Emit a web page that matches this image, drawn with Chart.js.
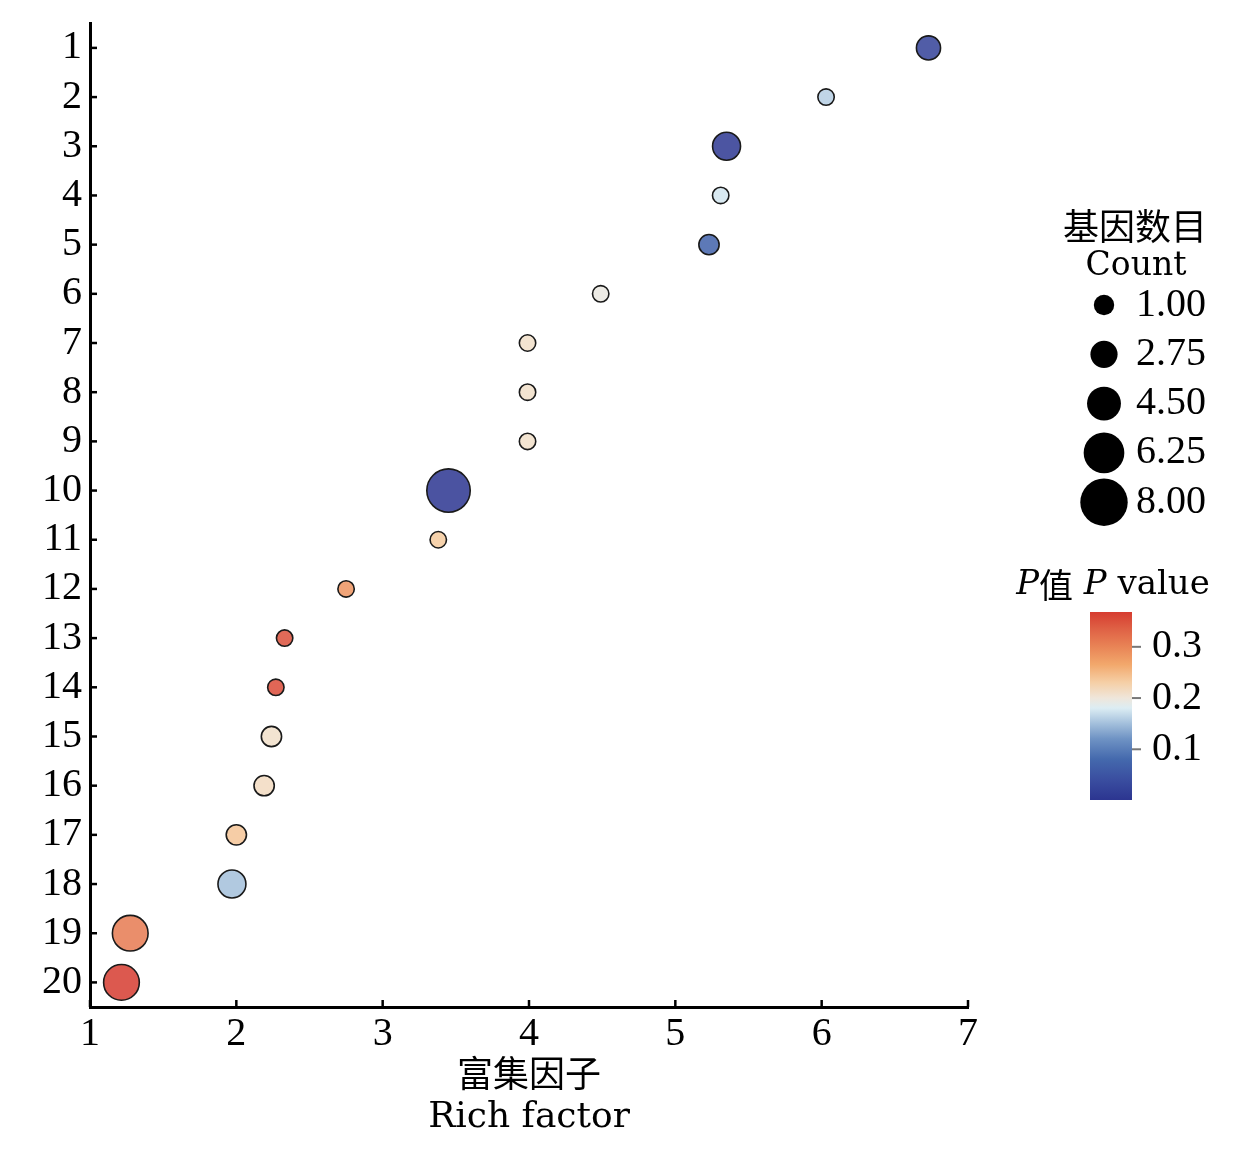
<!DOCTYPE html>
<html>
<head>
<meta charset="utf-8">
<script src="https://cdn.jsdelivr.net/npm/chart.js@4.4.1/dist/chart.umd.min.js"></script>
<style>html,body{margin:0;padding:0;background:#fff;}canvas{display:block;}</style>
</head>
<body>
<canvas id="c" width="1236" height="1156"></canvas>
<script>
// ---------- data ----------
const categories = ['1','2','3','4','5','6','7','8','9','10','11','12','13','14','15','16','17','18','19','20'];
const richFactor = [6.73, 6.03, 5.35, 5.31, 5.23, 4.49, 3.99, 3.99, 3.99, 3.45, 3.38, 2.75, 2.33, 2.27, 2.24, 2.19, 2.00, 1.97, 1.275, 1.215];
const geneCount  = [3, 1, 4, 1, 2, 1, 1, 1, 1, 8, 1, 1, 1, 1, 2, 2, 2, 4, 6, 6];
const pValue     = [0.02, 0.16, 0.005, 0.175, 0.07, 0.195, 0.21, 0.21, 0.21, 0.001, 0.235, 0.285, 0.35, 0.355, 0.21, 0.215, 0.24, 0.15, 0.31, 0.368];
const xTicks = [1, 2, 3, 4, 5, 6, 7];
const sizeLegendValues = [1.00, 2.75, 4.50, 6.25, 8.00];
const colorbarTicks = [0.1, 0.2, 0.3];

// ---------- styling helpers ----------
const cmapStops = [
  [0.000, '#2c3590'], [0.109, '#3a4ea0'], [0.217, '#4469ad'], [0.326, '#6f93c4'],
  [0.408, '#a4c0dc'], [0.489, '#dcedf3'], [0.543, '#efe6da'], [0.625, '#f5cfa6'],
  [0.720, '#f2a86c'], [0.815, '#e98456'], [0.910, '#df6145'], [1.000, '#d63c30']
];
const pMin = Math.min(...pValue), pMax = Math.max(...pValue);
function hex2rgb(h){return [parseInt(h.slice(1,3),16),parseInt(h.slice(3,5),16),parseInt(h.slice(5,7),16)];}
function cmap(p, alpha){
  let t = (p - pMin) / (pMax - pMin); t = Math.max(0, Math.min(1, t));
  for (let i = 1; i < cmapStops.length; i++) {
    if (t <= cmapStops[i][0]) {
      const [t0, c0] = cmapStops[i-1], [t1, c1] = cmapStops[i];
      const f = (t - t0) / (t1 - t0);
      const a = hex2rgb(c0), b = hex2rgb(c1);
      const rgb = a.map((v, k) => Math.round(v + (b[k] - v) * f));
      return `rgba(${rgb[0]},${rgb[1]},${rgb[2]},${alpha})`;
    }
  }
  return cmapStops[cmapStops.length-1][1];
}
const BORDER_W = 1.6;
function diameter(c){ return 18 + (c - 1) * 3.86; }
function radius(c){ return diameter(c) / 2 - BORDER_W / 2; }

const SERIF_NUM = "'Liberation Serif', 'DejaVu Serif', serif";
const SERIF_TXT = "'DejaVu Serif', 'Noto Sans CJK SC', serif";
const CJK = "'Noto Sans CJK SC', sans-serif";

// ---------- decorations plugin ----------
const decorations = {
  id: 'decorations',
  afterDraw(chart) {
    const ctx = chart.ctx;
    const xs = chart.scales.x, ys = chart.scales.y;
    const area = chart.chartArea;
    ctx.save();
    // inward ticks
    ctx.strokeStyle = '#000'; ctx.lineWidth = 2.5;
    xs.ticks.forEach(t => {
      const px = xs.getPixelForValue(t.value);
      ctx.beginPath(); ctx.moveTo(px, area.bottom); ctx.lineTo(px, area.bottom - 7); ctx.stroke();
    });
    ys.ticks.forEach(t => {
      const py = ys.getPixelForValue(t.value);
      ctx.beginPath(); ctx.moveTo(area.left, py); ctx.lineTo(area.left + 7, py); ctx.stroke();
    });

    // size legend
    ctx.fillStyle = '#000';
    ctx.textAlign = 'center'; ctx.textBaseline = 'middle';
    ctx.font = `36px ${CJK}`;
    ctx.fillText('基因数目', 1135, 226);
    ctx.font = `33px ${SERIF_TXT}`;
    ctx.fillText('Count', 1136, 266);
    sizeLegendValues.forEach((v, i) => {
      const y = 305 + i * 49.3;
      ctx.beginPath();
      ctx.arc(1104, y, diameter(v) / 2 + 1.2, 0, Math.PI * 2);
      ctx.fillStyle = '#000'; ctx.fill();
      ctx.textAlign = 'left';
      ctx.font = `40px ${SERIF_NUM}`;
      ctx.fillText(v.toFixed(2), 1136, y);
    });

    // colorbar title
    const segs = [
      ['P', `italic 34px ${SERIF_TXT}`],
      ['值', `34px ${CJK}`],
      [' ', `34px ${SERIF_TXT}`],
      ['P', `italic 34px ${SERIF_TXT}`],
      [' value', `34px ${SERIF_TXT}`]
    ];
    let total = 0;
    segs.forEach(s => { ctx.font = s[1]; total += ctx.measureText(s[0]).width; });
    let cx = 1113 - total / 2;
    ctx.textAlign = 'left';
    segs.forEach(s => { ctx.font = s[1]; ctx.fillText(s[0], cx, 585); cx += ctx.measureText(s[0]).width; });

    // colorbar
    const cbX = 1090, cbTop = 612, cbW = 42, cbH = 188;
    const grad = ctx.createLinearGradient(0, cbTop + cbH, 0, cbTop);
    cmapStops.forEach(s => grad.addColorStop(s[0], s[1]));
    ctx.fillStyle = grad;
    ctx.fillRect(cbX, cbTop, cbW, cbH);
    ctx.strokeStyle = '#777'; ctx.lineWidth = 2;
    ctx.fillStyle = '#000';
    ctx.font = `40px ${SERIF_NUM}`;
    ctx.textBaseline = 'middle';
    colorbarTicks.forEach(v => {
      const y = cbTop + cbH - (v - pMin) / (pMax - pMin) * cbH;
      ctx.beginPath(); ctx.moveTo(cbX + cbW, y); ctx.lineTo(cbX + cbW + 9, y); ctx.stroke();
      ctx.fillText(v.toFixed(1), 1152, y);
    });
    ctx.restore();
  }
};

// ---------- chart ----------
const data = {
  datasets: [{
    label: 'Rich factor',
    data: richFactor.map((x, i) => ({ x: x, y: i + 1, r: radius(geneCount[i]) })),
    backgroundColor: pValue.map(p => cmap(p, 0.85)),
    borderColor: '#1a1a1a',
    borderWidth: BORDER_W,
    hoverRadius: 0
  }]
};

new Chart(document.getElementById('c'), {
  type: 'bubble',
  data: data,
  plugins: [decorations],
  options: {
    responsive: false,
    animation: false,
    devicePixelRatio: 1,
    layout: { padding: { top: 20, right: 268, left: 0, bottom: 0 } },
    plugins: { legend: { display: false }, tooltip: { enabled: false } },
    scales: {
      x: {
        type: 'linear',
        min: 1, max: 7,
        afterBuildTicks: s => { s.ticks = xTicks.map(v => ({ value: v })); },
        afterFit: s => { s.height = 149; },
        grid: { display: false, drawTicks: false },
        border: { display: true, color: '#000', width: 3 },
        ticks: { color: '#000', padding: 3, font: { family: SERIF_NUM, size: 40 }, maxRotation: 0 },
        title: {
          display: true,
          text: ['富集因子', 'Rich factor'],
          color: '#000',
          font: { family: SERIF_TXT, size: 36, lineHeight: '40px' },
          padding: { top: 0, bottom: 18 }
        }
      },
      y: {
        type: 'linear',
        reverse: true,
        min: 0.5, max: 20.5,
        afterBuildTicks: s => { s.ticks = categories.map((c, i) => ({ value: i + 1 })); },
        afterFit: s => { s.width = 90; },
        grid: { display: false, drawTicks: false },
        border: { display: true, color: '#000', width: 3 },
        ticks: {
          color: '#000', padding: 8,
          font: { family: SERIF_NUM, size: 40, lineHeight: '12px' },
          callback: (v) => categories[Math.round(v) - 1]
        }
      }
    }
  }
});
</script>
</body>
</html>
